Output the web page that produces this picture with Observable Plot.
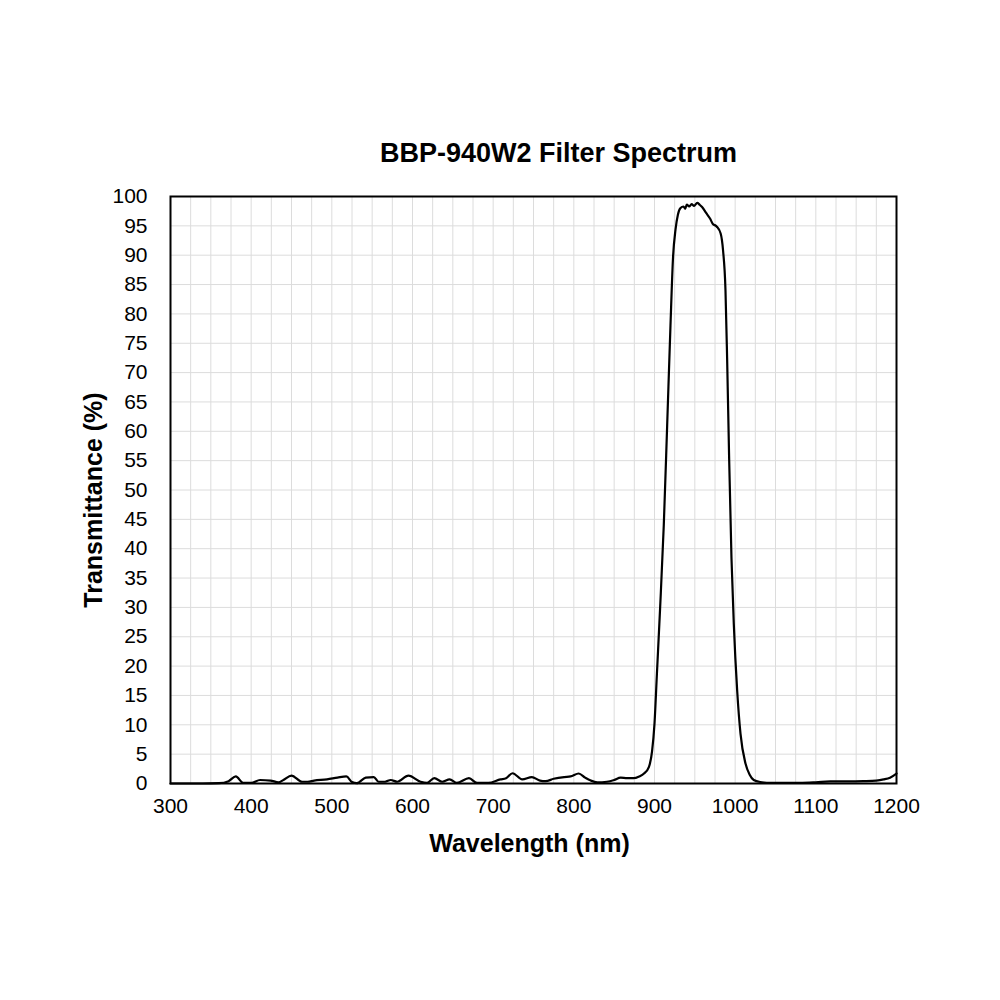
<!DOCTYPE html>
<html>
<head>
<meta charset="utf-8">
<script src="https://cdn.jsdelivr.net/npm/d3@7"></script>
<script src="https://cdn.jsdelivr.net/npm/@observablehq/plot@0.6"></script>
<style>
  html, body { margin: 0; padding: 0; background: #fff; }
  #chart { width: 1000px; height: 1000px; }
</style>
</head>
<body>
<div id="chart"></div>
<script>
const title = "BBP-940W2 Filter Spectrum";
const xLabel = "Wavelength (nm)";
const yLabel = "Transmittance (%)";

const xTicks = [300, 400, 500, 600, 700, 800, 900, 1000, 1100, 1200];
const yTicks = [0, 5, 10, 15, 20, 25, 30, 35, 40, 45, 50, 55, 60, 65, 70, 75, 80, 85, 90, 95, 100];
const xGrid = [325, 350, 375, 400, 425, 450, 475, 500, 525, 550, 575, 600, 625, 650, 675, 700, 725, 750, 775, 800, 825, 850, 875, 900, 925, 950, 975, 1000, 1025, 1050, 1075, 1100, 1125, 1150, 1175];
const yGrid = [5, 10, 15, 20, 25, 30, 35, 40, 45, 50, 55, 60, 65, 70, 75, 80, 85, 90, 95];

const wavelength = [
  300, 340, 360, 372, 381, 390, 400, 411, 424, 434, 440, 450, 463, 470, 478, 494, 507, 518, 525, 531,
  542, 552, 558, 566, 573, 581, 595, 610, 618, 627, 637, 646, 655, 670, 680, 694, 709, 716, 724, 736,
  748, 758, 765, 775, 788, 796, 806, 814, 821, 829, 841, 850, 858, 866, 874, 881, 887, 893, 897, 900,
  903, 907, 911.5, 915.7, 919.8, 923, 926, 929, 932, 936, 938, 940, 943, 946, 949, 953, 956, 959, 964, 969, 972,
  977, 982, 985, 988, 990, 992.5, 995.4, 998.3, 1002.5, 1006.6, 1012.8, 1018, 1023, 1031, 1045, 1056, 1080, 1100, 1118, 1140,
  1159, 1175, 1184, 1192, 1200
];
const transmittance = [
  0, 0, 0.05, 0.4, 1.2, 0.1, 0.1, 0.6, 0.5, 0.2, 0.6, 1.35, 0.3, 0.3, 0.5, 0.7, 1.0, 1.2, 0.25, 0.05,
  1.0, 1.1, 0.3, 0.3, 0.6, 0.3, 1.35, 0.3, 0.1, 0.9, 0.3, 0.7, 0.1, 0.9, 0.1, 0.1, 0.7, 0.9, 1.75, 0.7,
  1.1, 0.5, 0.4, 0.8, 1.1, 1.2, 1.7, 1.0, 0.5, 0.2, 0.3, 0.6, 1.0, 0.9, 0.9, 1.2, 1.7, 2.8, 5.5, 10.2,
  18.7, 30, 44, 61, 78, 89.7, 94.3, 96.9, 98.0, 98.3, 97.9, 98.6, 98.3, 98.7, 98.4, 98.9, 98.6, 98.2, 97.2, 96.2, 95.4,
  94.9, 93.7, 90.8, 84, 72.6, 55.6, 38.5, 27.2, 15.8, 8.5, 3.4, 1.5, 0.6, 0.25, 0.1, 0.1, 0.1, 0.2, 0.35, 0.35,
  0.4, 0.5, 0.7, 1.0, 1.7
];

const data = wavelength.map((w, i) => ({w, t: transmittance[i]}));

const chart = Plot.plot({
  width: 1000,
  height: 1000,
  marginLeft: 170,
  marginRight: 104,
  marginTop: 196,
  marginBottom: 217,
  style: {fontFamily: "Liberation Sans, Arial, sans-serif", color: "#000", background: "#fff"},
  x: {domain: [300, 1200]},
  y: {domain: [0, 100]},
  marks: [
    Plot.ruleX(xGrid, {stroke: "#dcdcdc", strokeWidth: 1}),
    Plot.ruleY(yGrid, {stroke: "#dcdcdc", strokeWidth: 1}),
    Plot.axisX({ticks: xTicks, tickSize: 0, tickPadding: 15, fontSize: 21, tickFormat: d => String(d), label: null}),
    Plot.axisY({ticks: yTicks, tickSize: 0, tickPadding: 23, fontSize: 21, tickFormat: d => String(d), label: null}),
    Plot.line(data, {x: "w", y: "t", curve: "monotone-x", stroke: "#000", strokeWidth: 2.2}),
    Plot.frame({stroke: "#000", strokeWidth: 2}),
    Plot.text([title], {frameAnchor: "top", lineAnchor: "middle", textAnchor: "middle", dy: -43, dx: 25, fontSize: 27, fontWeight: "bold", fill: "#000"}),
    Plot.text([xLabel], {frameAnchor: "bottom", lineAnchor: "middle", textAnchor: "middle", dy: 60, dx: -4, fontSize: 25, fontWeight: "bold", fill: "#000"}),
    Plot.text([yLabel], {frameAnchor: "left", lineAnchor: "middle", textAnchor: "middle", dx: -77, dy: 10, rotate: -90, fontSize: 25, fontWeight: "bold", fill: "#000"})
  ]
});
document.getElementById("chart").appendChild(chart);
</script>
</body>
</html>
